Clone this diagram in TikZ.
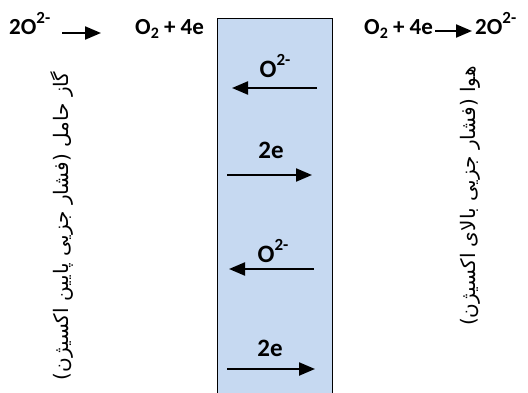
\documentclass[tikz,border=0pt]{standalone}
\usepackage{fontspec}
\setmainfont{Carlito}
\newfontfamily\arabicfont[Script=Arabic]{DejaVu Sans}
\TeXXeTstate=1
\usetikzlibrary{arrows.meta}
\definecolor{membrane}{HTML}{C6D9F1}
\newcommand{\mysup}[1]{\raisebox{0.45em}{\fontsize{17}{18}\selectfont #1}}
\newcommand{\mysub}[1]{\raisebox{-0.18em}{\fontsize{16}{17}\selectfont #1}}
\tikzset{
  lbl/.style={font=\fontsize{23}{26}\bfseries\selectfont, inner sep=0pt},
  lblin/.style={font=\fontsize{25}{28}\bfseries\selectfont, inner sep=0pt},
  flow/.style={line width=2.2pt, -{Triangle[length=16pt,width=13pt]}},
  fa/.style={font=\arabicfont\fontsize{20}{23}\selectfont, rotate=90, inner sep=0pt},
}
\begin{document}
\begin{tikzpicture}[x=1pt,y=-1pt]
\useasboundingbox (0,0) rectangle (528,392);
\clip (0,0) rectangle (528,392);
\fill[white] (0,0) rectangle (528,392);
\node[draw=black, line width=1.3pt, fill=membrane, minimum width=115pt, minimum height=390pt, anchor=north west, inner sep=0pt] (mem) at (217,18) {};
% top left
\node[lbl, anchor=base west] (l1) at (9,34) {2O\mysup{2-}};
\node[lbl, anchor=base west] (l2) at (135,34) {O\mysub{2} + 4e};
\coordinate (a1s) at (62,33);
\coordinate (a1e) at (101,33);
\draw[flow] (a1s) -- (a1e);
% top right
\node[lbl, anchor=base west] (r1) at (364,34) {O\mysub{2} + 4e};
\node[lbl, anchor=base west] (r2) at (475,34) {2O\mysup{2-}};
\coordinate (a2s) at (435,31);
\coordinate (a2e) at (472,31);
\draw[flow] (a2s) -- (a2e);
% inside membrane
\node[lblin, anchor=base] (o1) at (275,77) {O\mysup{2-}};
\coordinate (b1s) at (317,88); \coordinate (b1e) at (232,88);
\draw[flow] (b1s) -- (b1e);
\node[lblin, anchor=base] (e1) at (271,158) {2e};
\coordinate (b2s) at (227,175); \coordinate (b2e) at (312,175);
\draw[flow] (b2s) -- (b2e);
\node[lblin, anchor=base] (o2) at (273,262) {O\mysup{2-}};
\coordinate (b3s) at (314,269); \coordinate (b3e) at (229,269);
\draw[flow] (b3s) -- (b3e);
\node[lblin, anchor=base] (e2) at (270,356) {2e};
\coordinate (b4s) at (227,369); \coordinate (b4e) at (315,369);
\draw[flow] (b4s) -- (b4e);
% rotated Persian labels
\node[fa] (carrier) at (62,226) {\beginR گاز حامل (فشار جزیی پایین اکسیژن)\endR};
\node[fa] (air) at (470,196) {\beginR هوا (فشار جزیی بالای اکسیژن)\endR};
\end{tikzpicture}
\end{document}
